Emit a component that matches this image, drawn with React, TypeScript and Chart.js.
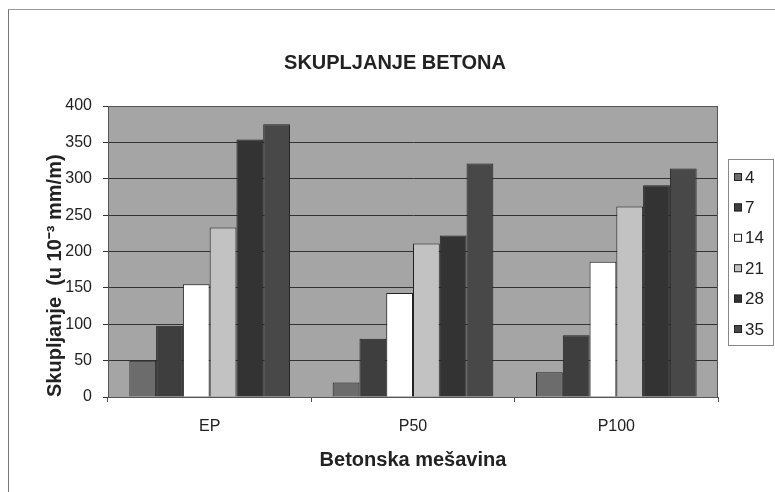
import React, { useEffect, useRef } from "react";
import { Chart, registerables } from "chart.js";
Chart.register(...registerables);

const categories = ["EP", "P50", "P100"];
const seriesLabels = ["4", "7", "14", "21", "28", "35"];
const s4 = [50, 20, 34];
const s7 = [98, 80, 85];
const s14 = [155, 143, 186];
const s21 = [233, 211, 262];
const s28 = [354, 222, 291];
const s35 = [375, 321, 314];
const seriesValues = [s4, s7, s14, s21, s28, s35];
const yMin = 0;
const yMax = 400;
const yStep = 50;

const barColors = ["#6c6c6c", "#3e3e3e", "#ffffff", "#c2c2c2", "#333333", "#484848"];
const FONT = "'Liberation Sans', Arial, sans-serif";

const plotBg = {
  id: "plotBg",
  afterLayout(chart: any) {
    if (chart.titleBlock) {
      chart.titleBlock.left = 72;
      chart.titleBlock.right = 718;
    }
  },
  beforeDraw(chart: any) {
    const { ctx, chartArea: a } = chart;
    ctx.save();
    ctx.fillStyle = "#a5a5a5";
    ctx.fillRect(a.left, a.top, a.right - a.left, a.bottom - a.top);
    ctx.restore();
  },
  afterDraw(chart: any) {
    const { ctx, chartArea: a } = chart;
    ctx.save();
    ctx.strokeStyle = "#555";
    ctx.lineWidth = 1;
    ctx.strokeRect(a.left + 0.5, a.top + 0.5, a.right - a.left - 1, a.bottom - a.top);
    // legend
    const lx = 728, ly = 159, lw = 45, lh = 186;
    ctx.strokeStyle = "#888";
    ctx.strokeRect(lx + 0.5, ly + 0.5, lw, lh);
    ctx.font = `17px ${FONT}`;
    ctx.textBaseline = "middle";
    ctx.textAlign = "left";
    chart.data.datasets.forEach((ds: any, i: number) => {
      const cy = 177 + i * 30.4;
      ctx.fillStyle = ds.backgroundColor;
      ctx.fillRect(734, cy - 4, 8, 8);
      ctx.strokeStyle = "#222";
      ctx.strokeRect(734.5, cy - 3.5, 7, 7);
      ctx.fillStyle = "#222";
      ctx.fillText(ds.label, 745, cy + 1);
    });
    ctx.restore();
  },
};

export default function App() {
  const ref = useRef<HTMLCanvasElement>(null);
  useEffect(() => {
    if (!ref.current) return;
    const chart = new Chart(ref.current, {
      type: "bar",
      data: {
        labels: categories,
        datasets: seriesLabels.map((l, i) => ({
          label: l,
          data: seriesValues[i],
          backgroundColor: barColors[i],
          borderColor: "#222",
          borderWidth: 1,
          barPercentage: 1,
          categoryPercentage: 0.79,
        })),
      },
      options: {
        responsive: false,
        animation: false,
        layout: { padding: { left: 0, right: 57, top: 0, bottom: 0 } },
        plugins: {
          legend: { display: false },
          tooltip: { enabled: false },
          title: {
            display: true,
            text: "SKUPLJANJE BETONA",
            color: "#222",
            font: { family: FONT, size: 20, weight: "bold" },
            padding: { top: 51, bottom: 31 },
          },
        },
        scales: {
          x: {
            grid: { drawOnChartArea: false, drawTicks: true, tickLength: 5, color: "#555", offset: true },
            border: { color: "#555" },
            ticks: { color: "#222", font: { family: FONT, size: 16 }, padding: 15 },
            title: {
              display: true,
              text: "Betonska mešavina",
              color: "#222",
              font: { family: FONT, size: 20, weight: "bold" },
              padding: { top: 0, bottom: 20 },
            },
            afterFit(scale: any) {
              scale.height = 95;
            },
          },
          y: {
            min: yMin,
            max: yMax,
            grid: { color: "#333", tickLength: 5, drawTicks: true },
            border: { color: "#555" },
            ticks: { stepSize: yStep, color: "#222", font: { family: FONT, size: 16 }, padding: 11 },
            title: {
              display: true,
              text: "Skupljanje  (u 10⁻³ mm/m)",
              align: "start",
              color: "#222",
              font: { family: FONT, size: 20, weight: "bold" },
              padding: { top: 43, bottom: 0 },
            },
            afterFit(scale: any) {
              scale.width = 108;
            },
          },
        },
      },
      plugins: [plotBg],
    });
    return () => chart.destroy();
  }, []);
  return (
    <div style={{ position: "absolute", left: 0, top: 0, width: 775, height: 492, background: "#fff" }}>
      <div
        style={{
          position: "absolute",
          left: 8,
          top: 9,
          width: 767,
          height: 483,
          borderLeft: "1px solid #777",
          borderTop: "1px solid #999",
        }}
      />
      <canvas ref={ref} width={775} height={492} style={{ position: "absolute", left: 0, top: 0 }} />
    </div>
  );
}
